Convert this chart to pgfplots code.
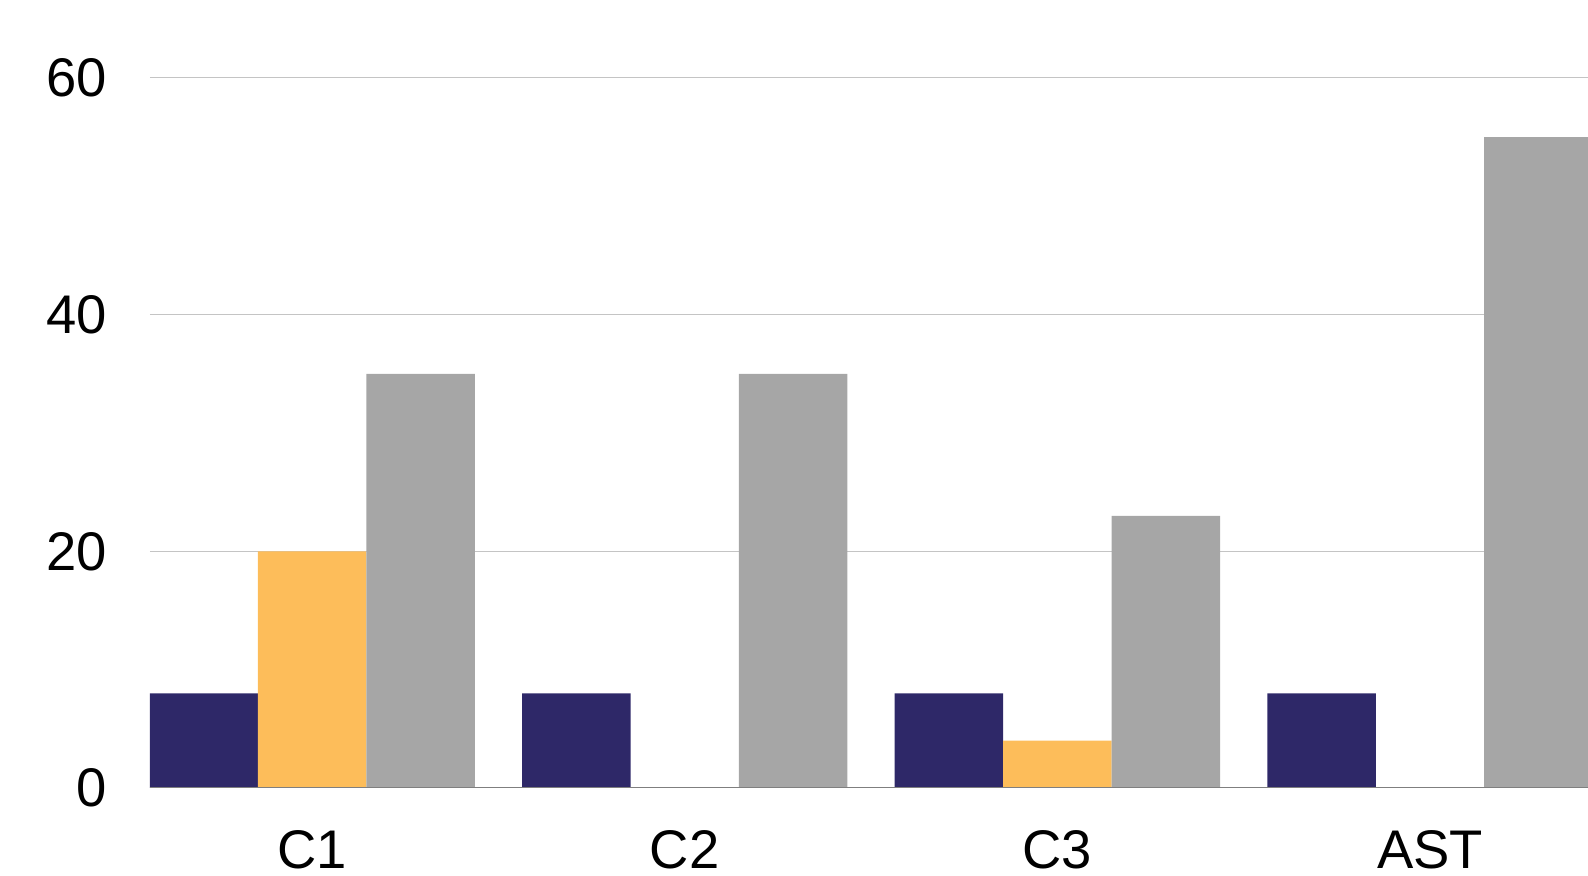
\documentclass[border=0pt]{standalone}
\usepackage{pgfplots}
\pgfplotsset{compat=1.18}
\usepackage{fontspec}
\setmainfont{Liberation Sans}
\definecolor{navy}{HTML}{2E2868}
\definecolor{orng}{HTML}{FDBD5A}
\definecolor{grayb}{HTML}{A6A6A6}
\definecolor{gridc}{HTML}{C4C4C4}
\definecolor{basec}{HTML}{7F7F7F}
\begin{document}
\begin{tikzpicture}
\begin{axis}[
  at={(0,0)}, anchor=south west,
  width=719pt, height=355pt, scale only axis,
  xmin=-0.435, xmax=3.424,
  ymin=0, ymax=60,
  xtick={0,1,2,3},
  xticklabels={C1,C2,C3,AST},
  ytick={0,20,40,60},
  ymajorgrids,
  grid style={gridc, line width=0.5pt},
  major tick length=0pt,
  axis line style={draw=none},
  axis x line*=bottom,
  axis y line*=left,
  tick label style={font=\fontsize{27.2}{30}\selectfont, text=black},
  yticklabel style={/pgf/number format/assume math mode=true, xshift=-18pt},
  xticklabel style={yshift=-17.5pt},
  clip=true,
]
\addplot[ybar, bar width=0.291, bar shift=-0.291, fill=navy, draw=none] coordinates {(0,8) (1,8) (2,8) (3,8)};
\addplot[ybar, bar width=0.291, bar shift=0, fill=orng, draw=none] coordinates {(0,20) (1,0) (2,4) (3,0)};
\addplot[ybar, bar width=0.291, bar shift=0.291, fill=grayb, draw=none] coordinates {(0,35) (1,35) (2,23) (3,55)};
\draw[basec, line width=1pt] (axis cs:-0.435,0) -- (axis cs:3.424,0);
\end{axis}
\pgfresetboundingbox
\path[use as bounding box] (-75pt,-44pt) rectangle (719pt,394pt);
\end{tikzpicture}
\end{document}
